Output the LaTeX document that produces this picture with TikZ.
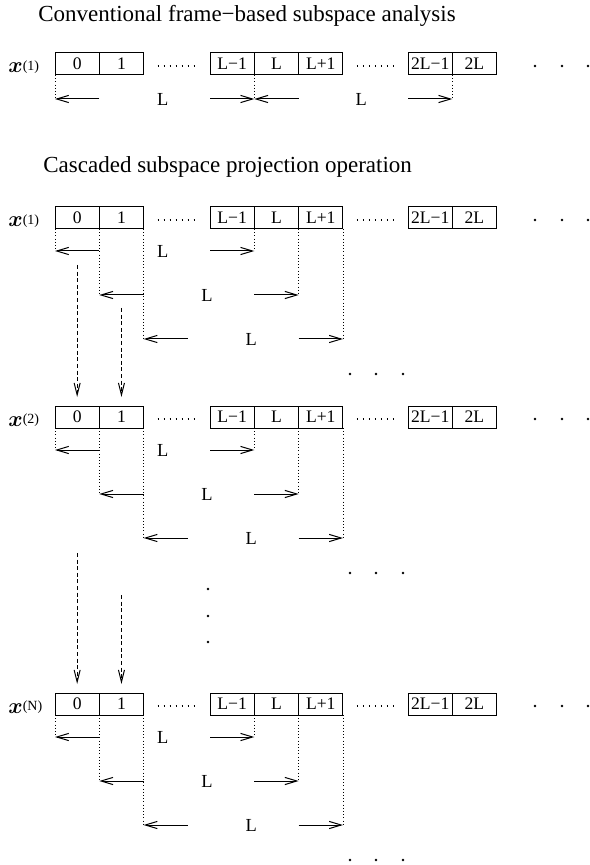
\documentclass[tikz,border=0pt]{standalone}
\usepackage{amsmath}
\usepackage{fontspec}
\setmainfont{Liberation Serif}
\usetikzlibrary{arrows.meta,calc}

\begin{document}
\begin{tikzpicture}[x=0.5pt,y=-0.5pt,
    cell/.style={draw,line width=0.5pt,minimum width=22.15pt,minimum height=11pt,
      inner sep=0pt,outer sep=0pt,font=\fontsize{8.8}{10}\selectfont},
    xlab/.style={inner sep=0pt,anchor=base west,font=\fontsize{11}{13}\selectfont},
    head/.style={inner sep=0pt,anchor=base west,font=\fontsize{11.5}{14}\selectfont},
    len/.style={inner sep=0pt,font=\fontsize{9.2}{11}\selectfont},
    guide/.style={line width=0.4pt,dash pattern=on 0.4pt off 1.2pt},
    gapdots/.style={line width=0.6pt,dash pattern=on 0.6pt off 2.4pt},
    dim/.style={line width=0.5pt,-{Straight Barb[length=6pt,width=3.6pt]}},
    flow/.style={line width=0.5pt,dash pattern=on 2pt off 1.3pt,
      -{Straight Barb[length=6pt,width=3pt]},shorten >=4.5pt}]
  \useasboundingbox (0,0) rectangle (589,865);

  \node[head] (conv) at (38,21.7) {Conventional frame−based subspace analysis};
  \node[head] (casc) at (43,173) {Cascaded subspace projection operation};

  % the sample buffers
  \foreach \row/\ytop/\idx in {s/53/1, p/207/1, q/406/2, n/693/N}{
    \node[xlab] (\row x) at (8,\ytop+20)
      {$\boldsymbol{x}$\raisebox{1.2pt}{\fontsize{7}{8}\selectfont(\idx)}};
    \node[cell] (\row0) at (77.15,\ytop+11) {0};
    \node[cell] (\row1) at (121.45,\ytop+11) {1};
    \node[cell] (\row Lm) at (232.15,\ytop+11) {L−1};
    \node[cell] (\row L) at (276.45,\ytop+11) {L};
    \node[cell] (\row Lp) at (320.75,\ytop+11) {L+1};
    \node[cell] (\row 2Lm) at (430.15,\ytop+11) {2L−1};
    \node[cell] (\row 2L) at (474.45,\ytop+11) {2L};
    \draw[gapdots] ($(\row1.east)+(14,2)$) -- ($(\row Lm.west)+(-15,2)$);
    \draw[gapdots] ($(\row Lp.east)+(14,2)$) -- ($(\row 2Lm.west)+(-15,2)$);
    \foreach \x in {535,562,588}
      \fill (\x,\ytop+13) circle[radius=0.65pt];
  }

  % plain framing: two frames of length L
  \draw[guide] (s0.south west) -- ++(0,24) coordinate (sA);
  \draw[guide] (sL.south west) -- ++(0,24) coordinate (sB);
  \draw[guide] (s2L.south west) -- ++(0,24) coordinate (sC);
  \draw[dim] ($(sA)+(44.3,0)$) -- (sA);
  \draw[dim] ($(sB)-(44.3,0)$) -- (sB);
  \draw[dim] ($(sB)+(44.3,0)$) -- (sB);
  \draw[dim] ($(sC)-(44.3,0)$) -- (sC);
  \node[len] (sL1) at ($(sA)!0.5!(sB)+(8,0)$) {L};
  \node[len] (sL2) at ($(sB)!0.5!(sC)+(8,0)$) {L};

  % cascaded framing: windows shifted by one sample
  \foreach \row/\ytop in {p/207, q/406, n/693}{
    \foreach \lo/\hi/\dep in {0.south west/L.south west/22,
        1.south west/Lp.south west/66, 1.south east/Lp.south east/110}{
      \draw[guide] (\row\lo) -- ++(0,\dep) coordinate (lft);
      \draw[guide] (\row\hi) -- ++(0,\dep) coordinate (rgt);
      \draw[dim] ($(lft)+(44.3,0)$) -- (lft);
      \draw[dim] ($(rgt)-(44.3,0)$) -- (rgt);
      \node[len] (\row w\dep) at ($(lft)!0.5!(rgt)+(8,0)$) {L};
    }
    \foreach \x in {350,376,403}
      \fill (\x,\ytop+167) circle[radius=0.65pt];
  }

  % projections handed on to the next stage
  \coordinate (d1) at (77.15,265);
  \coordinate (d2) at (121.45,308);
  \coordinate (d3) at (77.15,553);
  \coordinate (d4) at (121.45,595);
  \draw[flow] (d1) -- (q0.north);
  \draw[flow] (d2) -- (q1.north);
  \draw[flow] (d3) -- (n0.north);
  \draw[flow] (d4) -- (n1.north);

  \foreach \y in {589,616,642}
    \fill (208,\y) circle[radius=0.65pt];
\end{tikzpicture}
\end{document}
